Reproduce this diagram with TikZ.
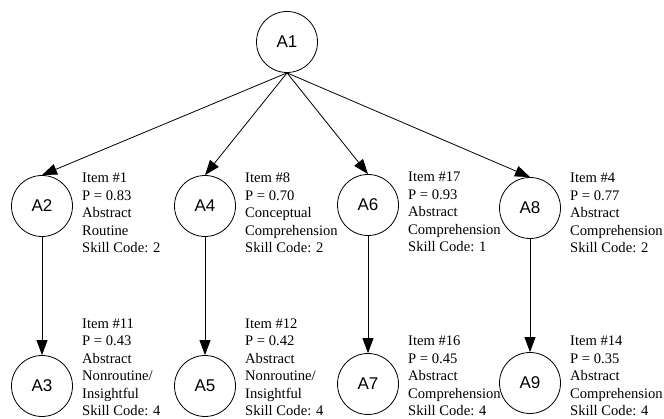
\documentclass[tikz,border=0pt]{standalone}
\usepackage{fontspec}
\setmainfont{Liberation Serif}
\setsansfont{Liberation Sans}
\usetikzlibrary{arrows.meta, positioning}

\begin{document}
\begin{tikzpicture}[x=1pt, y=-1pt,
        ability/.style={circle, draw, line width=0.8pt, minimum size=61pt, inner sep=0pt,
            font=\sffamily\fontsize{17}{17}\selectfont},
        info/.style={align=left, inner sep=0pt, font=\fontsize{14.6}{17.4}\selectfont},
        link/.style={-{Triangle[length=15pt, width=11pt]}, line width=0.8pt}]
        \useasboundingbox (0,0) rectangle (664,419);

        \node[ability] (A1) at (287, 42) {A1};
        \node[ability] (A2) at (42, 206) {A2};
        \node[ability] (A4) at (205, 206) {A4};
        \node[ability] (A6) at (368, 205) {A6};
        \node[ability] (A8) at (530, 208) {A8};
        \node[ability] (A3) at (42, 386) {A3};
        \node[ability] (A5) at (205, 386) {A5};
        \node[ability] (A7) at (368, 384) {A7};
        \node[ability] (A9) at (530, 383) {A9};

        \node[info, anchor=north west] (i2) at (82, 173) {Item \#1\\P = 0.83\\Abstract\\Routine\\Skill Code: 2};
        \node[info, anchor=north west] (i4) at (245, 173) {Item \#8\\P = 0.70\\Conceptual\\Comprehension\\Skill Code: 2};
        \node[info, anchor=north west] (i6) at (408, 172) {Item \#17\\P = 0.93\\Abstract\\Comprehension\\Skill Code: 1};
        \node[info, anchor=north west] (i8) at (570, 173) {Item \#4\\P = 0.77\\Abstract\\Comprehension\\Skill Code: 2};
        \node[info, anchor=south west] (i3) at (82, 416) {Item \#11\\P = 0.43\\Abstract\\Nonroutine/\\Insightful\\Skill Code: 4};
        \node[info, anchor=south west] (i5) at (245, 416) {Item \#12\\P = 0.42\\Abstract\\Nonroutine/\\Insightful\\Skill Code: 4};
        \node[info, anchor=south west] (i7) at (408, 416) {Item \#16\\P = 0.45\\Abstract\\Comprehension\\Skill Code: 4};
        \node[info, anchor=south west] (i9) at (570, 416) {Item \#14\\P = 0.35\\Abstract\\Comprehension\\Skill Code: 4};

        \draw[link] (A1.south) -- (A2.north);
        \draw[link] (A1.south) -- (A4.north);
        \draw[link] (A1.south) -- (A6.north);
        \draw[link] (A1.south) -- (A8.north);
        \draw[link] (A2.south) -- (A3.north);
        \draw[link] (A4.south) -- (A5.north);
        \draw[link] (A6.south) -- (A7.north);
        \draw[link] (A8.south) -- (A9.north);
    \end{tikzpicture}
\end{document}
